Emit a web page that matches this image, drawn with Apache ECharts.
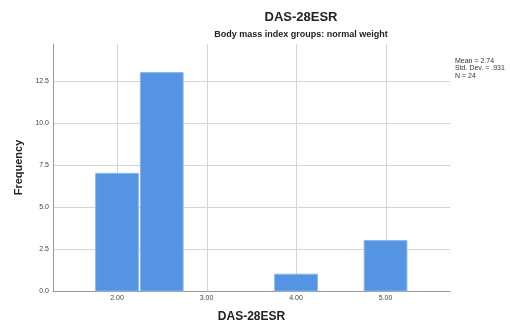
<!DOCTYPE html>
<html><head><meta charset="utf-8">
<script src="https://cdn.jsdelivr.net/npm/echarts@6/dist/echarts.min.js"></script>
<style>html,body{margin:0;padding:0;background:#fff}#c{width:510px;height:328px}</style>
</head><body><div id="c"></div>
<script>
// Histogram bins: [start, end]
const binStarts = [1.75, 2.25, 3.75, 4.75];
const binEnds   = [2.25, 2.75, 4.25, 5.25];
const frequencies = [7, 13, 1, 3];
const xTicks = [2, 3, 4, 5];
const xTickLabels = ['2.00', '3.00', '4.00', '5.00'];
const yTicks = [0, 2.5, 5, 7.5, 10, 12.5];
const statsLines = ['Mean = 2.74', 'Std. Dev. = .931', 'N = 24'];

const font = 'Liberation Sans, Arial, sans-serif';
const chart = echarts.init(document.getElementById('c'));
const data = binStarts.map((s, i) => [s, binEnds[i], frequencies[i]]);

chart.setOption({
  animation: false,
  grid: {left: 53, top: 44, right: 60, bottom: 32},
  xAxis: {
    type: 'value', min: 1.285, max: 5.72,
    name: 'DAS-28ESR', nameLocation: 'middle', nameGap: 20,
    nameTextStyle: {fontFamily: font, fontWeight: 'bold', fontSize: 12, color: '#222'},
    axisLine: {show: true, lineStyle: {color: '#999', width: 1}},
    axisTick: {show: false},
    splitLine: {show: false},
    axisLabel: {customValues: xTicks, formatter: v => xTickLabels[xTicks.indexOf(v)] || '',
      fontFamily: font, fontSize: 7, color: '#444', margin: 4}
  },
  yAxis: {
    type: 'value', min: 0, max: 14.7, interval: 2.5,
    name: 'Frequency', nameLocation: 'middle', nameGap: 28, nameRotate: 90,
    nameTextStyle: {fontFamily: font, fontWeight: 'bold', fontSize: 11, color: '#222'},
    axisLine: {show: true, lineStyle: {color: '#999', width: 1}},
    axisTick: {show: false},
    splitLine: {show: true, showMaxLine: false, lineStyle: {color: '#d4d4d4', width: 1}},
    axisLabel: {showMaxLabel: false, formatter: v => v.toFixed(1),
      fontFamily: font, fontSize: 7, color: '#444', margin: 4}
  },
  series: [{
    type: 'custom', z: 1, silent: true,
    data: xTicks.map(v => [v]),
    renderItem: function (params, api) {
      const cs = params.coordSys;
      const x = Math.round(api.coord([api.value(0), 0])[0]) + 0.5;
      return {type: 'line', shape: {x1: x, y1: cs.y, x2: x, y2: cs.y + cs.height},
        style: {stroke: '#d4d4d4', lineWidth: 1}};
    }
  }, {
    type: 'custom',
    data: data,
    renderItem: function (params, api) {
      const p0 = api.coord([api.value(0), api.value(2)]);
      const p1 = api.coord([api.value(1), 0]);
      return {
        type: 'rect',
        shape: {x: p0[0] + 1, y: p0[1], width: p1[0] - p0[0] - 2, height: p1[1] - p0[1]},
        style: {fill: '#5593e3', stroke: '#8cb6ef', lineWidth: 1}
      };
    },
    z: 3
  }],
  graphic: [
    {type: 'text', x: 301, y: 17, style: {text: 'DAS-28ESR', font: 'bold 13px ' + font, fill: '#222', textAlign: 'center', textVerticalAlign: 'middle'}},
    {type: 'text', x: 301, y: 35, style: {text: 'Body mass index groups: normal weight', font: 'bold 9px ' + font, fill: '#222', textAlign: 'center', textVerticalAlign: 'middle'}},
    {type: 'text', x: 455, y: 57, style: {text: statsLines.join('\n'), font: '7px ' + font, fill: '#333', lineHeight: 7.5}}
  ]
});
</script></body></html>
